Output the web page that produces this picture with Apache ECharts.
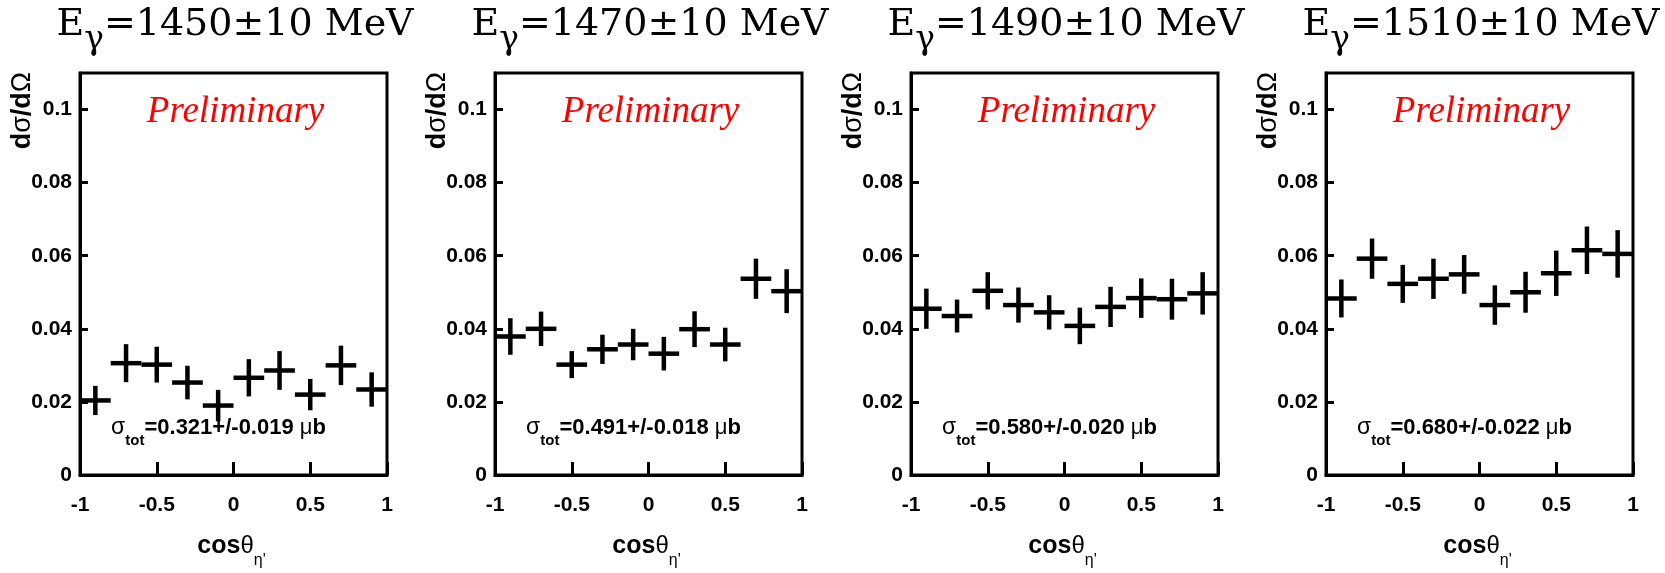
<!DOCTYPE html>
<html><head><meta charset="utf-8">
<script src="https://cdn.jsdelivr.net/npm/echarts@6/dist/echarts.min.js"></script>
<style>html,body{margin:0;padding:0;background:#fff}#c{width:1665px;height:573px}</style>
</head><body><div id="c"></div>
<script>
// ---- data ----
const energies = [1450, 1470, 1490, 1510];
const cosTheta = [-0.9, -0.7, -0.5, -0.3, -0.1, 0.1, 0.3, 0.5, 0.7, 0.9];
const binHalfWidth = 0.1;
const val1450 = [0.0204, 0.0306, 0.0302, 0.0253, 0.0190, 0.0266, 0.0286, 0.0220, 0.0300, 0.0234];
const err1450 = [0.0040, 0.0052, 0.0049, 0.0046, 0.0043, 0.0051, 0.0053, 0.0043, 0.0054, 0.0047];
const val1470 = [0.0379, 0.0400, 0.0302, 0.0344, 0.0357, 0.0332, 0.0399, 0.0357, 0.0537, 0.0503];
const err1470 = [0.0050, 0.0047, 0.0037, 0.0040, 0.0043, 0.0046, 0.0049, 0.0046, 0.0055, 0.0060];
const val1490 = [0.0455, 0.0435, 0.0504, 0.0465, 0.0445, 0.0408, 0.0460, 0.0484, 0.0481, 0.0497];
const err1490 = [0.0055, 0.0045, 0.0051, 0.0048, 0.0047, 0.0050, 0.0055, 0.0054, 0.0056, 0.0058];
const val1510 = [0.0483, 0.0592, 0.0523, 0.0537, 0.0549, 0.0465, 0.0500, 0.0552, 0.0615, 0.0605];
const err1510 = [0.0052, 0.0055, 0.0052, 0.0055, 0.0053, 0.0054, 0.0056, 0.0062, 0.0065, 0.0065];
const sigmaTot = ['0.321+/-0.019', '0.491+/-0.018', '0.580+/-0.020', '0.680+/-0.022'];
const xMin = -1, xMax = 1, xInterval = 0.5;
const yMin = 0, yMax = 0.11, yInterval = 0.02;

const values = [val1450, val1470, val1490, val1510];
const errors = [err1450, err1470, err1490, err1510];

// ---- layout ----
const plotLeft = [80, 495, 911, 1326];
const plotTop = 73, plotW = 307, plotH = 402;
const SANS = 'Liberation Sans';

const chart = echarts.init(document.getElementById('c'));
const grids = [], xAxes = [], yAxes = [], series = [], graphics = [];

plotLeft.forEach((L, i) => {
  grids.push({left: L, top: plotTop, width: plotW, height: plotH, show: true,
    borderColor: '#000', borderWidth: 3, backgroundColor: 'rgba(0,0,0,0)', outerBoundsMode: 'none'});
  xAxes.push({gridIndex: i, type: 'value', min: xMin, max: xMax, interval: xInterval,
    axisLine: {show: true, onZero: false, lineStyle: {color: '#000', width: 3}},
    axisTick: {show: true, inside: true, length: 13, lineStyle: {color: '#000', width: 3}},
    axisLabel: {color: '#000', fontFamily: SANS, fontWeight: 'bold', fontSize: 21, margin: 20,
      showMinLabel: true, showMaxLabel: true},
    splitLine: {show: false}});
  yAxes.push({gridIndex: i, type: 'value', min: yMin, max: yMax, interval: yInterval,
    axisLine: {show: true, onZero: false, lineStyle: {color: '#000', width: 3}},
    axisTick: {show: true, inside: true, length: 8, lineStyle: {color: '#000', width: 3}},
    axisLabel: {color: '#000', fontFamily: SANS, fontWeight: 'bold', fontSize: 21, margin: 8,
      showMinLabel: true, showMaxLabel: false},
    splitLine: {show: false}});
  series.push({type: 'custom', xAxisIndex: i, yAxisIndex: i, silent: true,
    data: cosTheta.map((c, j) => [c, values[i][j], errors[i][j]]),
    encode: {x: 0, y: 1},
    renderItem: (params, api) => {
      const x = api.value(0), y = api.value(1), e = api.value(2);
      const pL = api.coord([x - binHalfWidth, y]), pR = api.coord([x + binHalfWidth, y]);
      const pT = api.coord([x, y + e]), pB = api.coord([x, y - e]);
      const st = {stroke: '#000', lineWidth: 4.5};
      return {type: 'group', children: [
        {type: 'line', shape: {x1: pL[0], y1: pL[1], x2: pR[0], y2: pR[1]}, style: st},
        {type: 'line', shape: {x1: pT[0], y1: pT[1], x2: pB[0], y2: pB[1]}, style: st}
      ]};
    }});
  const cx = L + plotW / 2;
  // panel title (main tokens centred in line, subscript sits at line bottom)
  graphics.push({type: 'text', x: cx + 1.5, y: 25, silent: true, style: {
    text: '{m|E}{g|γ}{m|=' + energies[i] + '±10 MeV}', align: 'center', verticalAlign: 'middle',
    rich: {
      m: {fontFamily: 'DejaVu Serif', fontSize: 38, lineHeight: 63, verticalAlign: 'middle', fill: '#000'},
      g: {fontFamily: 'DejaVu Serif', fontSize: 33, lineHeight: 33, verticalAlign: 'bottom', fill: '#000'}
    }}});
  // Preliminary
  graphics.push({type: 'text', x: cx + 2, y: 112.5, silent: true, style: {
    text: 'Preliminary', fontFamily: 'Liberation Serif', fontStyle: 'italic', fontSize: 37,
    fill: '#ff0000', align: 'center', verticalAlign: 'middle'}});
  // sigma tot
  graphics.push({type: 'text', x: L + 138.5, y: 428, silent: true, style: {
    text: '{s|σ}{t|tot}{b|=' + sigmaTot[i] + ' }{u|μ}{b|b}', align: 'center', verticalAlign: 'middle',
    rich: {
      s: {fontFamily: SANS, fontSize: 23, lineHeight: 40, verticalAlign: 'middle', fill: '#000'},
      t: {fontFamily: SANS, fontWeight: 'bold', fontSize: 15, lineHeight: 15, verticalAlign: 'bottom', fill: '#000'},
      b: {fontFamily: SANS, fontWeight: 'bold', fontSize: 22, lineHeight: 40, verticalAlign: 'middle', fill: '#000'},
      u: {fontFamily: SANS, fontSize: 22, lineHeight: 40, verticalAlign: 'middle', fill: '#000'}
    }}});
  // x axis name
  graphics.push({type: 'text', x: cx - 2, y: 546, silent: true, style: {
    text: '{c|cos}{h|θ}{e|η\'}', align: 'center', verticalAlign: 'middle',
    rich: {
      c: {fontFamily: SANS, fontWeight: 'bold', fontSize: 25, lineHeight: 46, verticalAlign: 'middle', fill: '#000'},
      h: {fontFamily: SANS, fontSize: 24, lineHeight: 46, verticalAlign: 'middle', fill: '#000'},
      e: {fontFamily: SANS, fontSize: 16, lineHeight: 16, verticalAlign: 'bottom', fill: '#000'}
    }}});
  // y axis name
  graphics.push({type: 'text', x: L - 57, y: plotTop - 1, rotation: Math.PI / 2, silent: true, style: {
    text: '{d|d}{g|σ}{d|/d}{g|Ω}', align: 'right', verticalAlign: 'middle',
    rich: {
      d: {fontFamily: SANS, fontWeight: 'bold', fontSize: 27, fill: '#000'},
      g: {fontFamily: SANS, fontSize: 27, fill: '#000'}
    }}});
});

chart.setOption({
  animation: false,
  backgroundColor: '#fff',
  grid: grids, xAxis: xAxes, yAxis: yAxes, series: series, graphic: graphics
});
</script></body></html>
